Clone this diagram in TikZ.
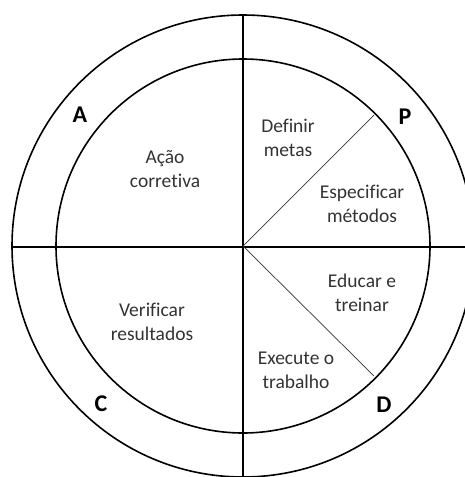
\documentclass[tikz,border=0pt]{standalone}
\usepackage{fontspec}
\setmainfont[Ligatures=NoCommon]{Carlito}
\begin{document}
\begin{tikzpicture}[x=1pt,y=-1pt,
  ring/.style={line width=1.6pt},
  axis/.style={line width=1.5pt},
  diag/.style={line width=0.7pt, black!80},
  lbl/.style={align=center, font=\fontsize{19.5}{24}\selectfont, text=black!80, inner sep=0pt},
  big/.style={font=\fontsize{24}{26}\selectfont\bfseries, inner sep=0pt}]
\useasboundingbox (0,0) rectangle (465,477);
\coordinate (O) at (243,246);
\begin{scope}
\clip (0,0) rectangle (465,477);
\draw[ring] (O) circle[radius=231pt];
\end{scope}
\draw[ring] (O) circle[radius=187pt];
\coordinate (T) at (243,15);
\coordinate (B) at (243,477);
\coordinate (L) at (11,247);
\coordinate (R) at (465,247);
\draw[axis] (T) -- (B);
\draw[axis] (L) -- (R);
\coordinate (UR) at (374,115);
\coordinate (LR) at (374,376);
\draw[diag] (O) -- (UR);
\draw[diag] (O) -- (LR);
\node[lbl] (acao) at (165,169) {Ação\\corretiva};
\node[lbl] (def) at (288,138) {Definir\\metas};
\node[lbl] (esp) at (362,204) {Especificar\\métodos};
\node[lbl] (edu) at (362,293) {Educar e\\treinar};
\node[lbl] (exe) at (296,370) {Execute o\\trabalho};
\node[lbl] (ver) at (152,322) {Verificar\\resultados};
\node[big] (A) at (80,115) {A};
\node[big] (P) at (405,117) {P};
\node[big] (C) at (101,404) {C};
\node[big] (D) at (384,405) {D};
\end{tikzpicture}
\end{document}
